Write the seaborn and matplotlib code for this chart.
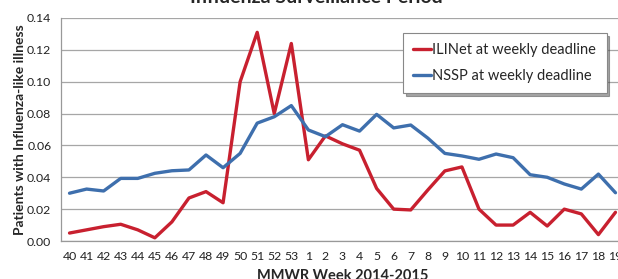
import pandas as pd
import matplotlib
matplotlib.use("Agg")
import matplotlib.pyplot as plt
import seaborn as sns

# weeks of the 2014-2015 season
weeks = ["40", "41", "42", "43", "44", "45", "46", "47", "48", "49", "50", "51", "52", "53",
         "1", "2", "3", "4", "5", "6", "7", "8", "9", "10", "11", "12", "13", "14", "15",
         "16", "17", "18", "19"]

ilinet = [0.005, 0.007, 0.009, 0.0105, 0.007, 0.002, 0.012, 0.027, 0.031, 0.024, 0.100, 0.131,
          0.080, 0.124, 0.051, 0.066, 0.061, 0.057, 0.033, 0.020, 0.0195, 0.032, 0.044, 0.0465,
          0.020, 0.010, 0.010, 0.018, 0.0094, 0.020, 0.017, 0.004, 0.018]

nssp = [0.030, 0.0326, 0.0314, 0.0393, 0.0393, 0.0425, 0.0441, 0.0446, 0.054, 0.046, 0.055, 0.074,
        0.078, 0.085, 0.0697, 0.0655, 0.073, 0.069, 0.0795, 0.071, 0.0728, 0.0646, 0.055, 0.0534,
        0.0513, 0.0546, 0.0523, 0.0416, 0.040, 0.0358, 0.0326, 0.042, 0.0303]

series_names = ["ILINet at weekly deadline", "NSSP at weekly deadline"]
colors = ["#C8202F", "#3E6FAD"]

df = pd.DataFrame({
    "pos": list(range(len(weeks))) * 2,
    "value": ilinet + nssp,
    "series": [series_names[0]] * len(weeks) + [series_names[1]] * len(weeks),
})

sns.set_style("white")
plt.rcParams["font.family"] = ["Lato", "DejaVu Sans"]

fig = plt.figure(figsize=(6.18, 2.79), dpi=100)
ax = fig.add_axes([0.0987, 0.1362, 0.9110, 0.7993])

sns.lineplot(data=df, x="pos", y="value", hue="series", palette=colors,
             linewidth=2.4, ax=ax, legend=True)

ax.set_xlim(-0.5, len(weeks) - 0.5)
ax.set_ylim(0, 0.14)
ax.set_yticks([i * 0.02 for i in range(8)])
ax.set_yticklabels([f"{i * 0.02:.2f}" for i in range(8)], fontsize=8.8, color="#222222")
ax.set_xticks(range(len(weeks)))
ax.set_xticklabels(weeks, fontsize=8.8, color="#222222")
ax.set_xticks([i - 0.5 for i in range(len(weeks) + 1)], minor=True)
ax.tick_params(axis="x", which="major", length=0, pad=7)
ax.tick_params(axis="x", which="minor", length=4, color="#999999", width=0.8, direction="out")
ax.tick_params(axis="y", length=4, color="#999999", width=0.8, direction="out", pad=3)

ax.grid(axis="y", color="#A6A6A6", linewidth=0.9)
ax.set_axisbelow(True)
for s in ["top", "right"]:
    ax.spines[s].set_visible(False)
for s in ["left", "bottom"]:
    ax.spines[s].set_color("#999999")
    ax.spines[s].set_linewidth(0.9)

ax.set_xlabel("MMWR Week 2014-2015", fontsize=10.5, fontweight="bold", labelpad=5)
ax.set_ylabel("Patients with Influenza-like illness", fontsize=10, fontweight="bold", labelpad=1)

fig.text(0.512, 0.989, "Influenza Surveillance Period", ha="center", va="baseline",
         fontsize=14, fontweight="bold")

leg = ax.legend(loc="upper left", bbox_to_anchor=(0.595, 0.965), fontsize=10.5, frameon=True,
                fancybox=False, shadow=True, handlelength=1.2, handletextpad=0.1,
                borderpad=0.7, labelspacing=0.8, edgecolor="#888888")
leg.get_frame().set_linewidth(0.8)
for line in leg.get_lines():
    line.set_linewidth(2.4)

fig.savefig("out.png", dpi=100)
